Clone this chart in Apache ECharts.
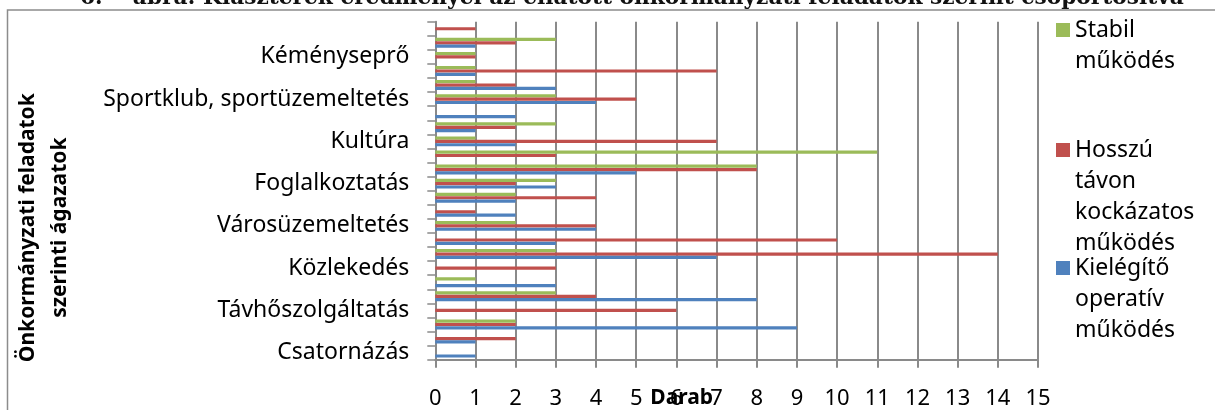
<!DOCTYPE html>
<html><head><meta charset="utf-8">
<script src="https://cdn.jsdelivr.net/npm/echarts@6/dist/echarts.min.js"></script>
<style>html,body{margin:0;padding:0;background:#fff}#c{width:1215px;height:410px}</style>
</head><body><div id="c"></div><script>
// Categories bottom-to-top (only every third label is shown in the reference; hidden ones unreadable)
const categories = ['Csatornázás','','','Távhőszolgáltatás','','','Közlekedés','','','Városüzemeltetés','','','Foglalkoztatás','','','Kultúra','','','Sportklub, sportüzemeltetés','','','Kéményseprő','',''];
const kielegito = [1,1,9,0,8,3,0,7,3,4,2,2,3,5,0,2,1,2,4,3,1,0,1,0];
const hosszu    = [0,2,2,6,4,0,3,14,10,4,1,4,2,8,3,7,2,0,5,2,7,1,2,1];
const stabil    = [0,0,2,0,3,1,0,3,0,2,0,2,3,8,11,1,3,0,3,1,1,1,3,0];
const seriesNames = ['Stabil működés','Hosszú távon kockázatos működés','Kielégítő operatív működés'];
const legendLabels = ['Stabil\nműködés','Hosszú\ntávon\nkockázatos\nműködés','Kielégítő\noperatív\nműködés'];
const xMin = 0, xMax = 15, xStep = 1;
const titleText = '6.    ábra: Klaszterek eredményei az ellátott önkormányzati feladatok szerint csoportosítva';
const yTitle = 'Önkormányzati feladatok\nszerinti ágazatok';
const xTitle = 'Darab';

const colors = ['#9BBB59','#C0504D','#4F81BD'];
const FONT = 'Noto Sans';
const LH = 31;
function iconFor(nLines){
  const h = nLines*LH, c = LH/2;
  return 'path://M0,0L0,0M0,'+(c-7)+'L14,'+(c-7)+'L14,'+(c+7)+'L0,'+(c+7)+'ZM14,'+h+'L14,'+h;
}
const legendTops = [14.5, 134.5, 252.5];
const legends = seriesNames.map((n,i)=>{
  const lines = legendLabels[i].split('\n').length;
  return {
    orient:'vertical', left:1056, top:legendTops[i], padding:0,
    itemWidth:14, itemHeight:lines*LH, itemGap:0,
    data:[{name:n, icon:iconFor(lines)}],
    formatter: ()=>legendLabels[i],
    textStyle:{fontFamily:FONT, fontSize:23, color:'#000', lineHeight:LH},
    selectedMode:false
  };
});

const chart = echarts.init(document.getElementById('c'), null, {renderer:'canvas'});
chart.setOption({
  animation:false,
  backgroundColor:'#fff',
  color: colors,
  title:{text:titleText, left:80, top:-13, padding:0,
    textStyle:{fontFamily:'DejaVu Serif', fontWeight:'bold', fontSize:21.7, color:'#111'}},
  legend: legends,
  grid:{left:435.3, right:177, top:21.7, bottom:50.3, containLabel:false, outerBoundsMode:'none'},
  xAxis:{type:'value', min:xMin, max:xMax, interval:xStep,
    axisLine:{show:true, lineStyle:{color:'#8a8a8a', width:2}},
    axisTick:{show:true, length:8, lineStyle:{color:'#8a8a8a', width:2}},
    splitLine:{show:true, lineStyle:{color:'#8a8a8a', width:2}},
    axisLabel:{fontFamily:FONT, fontSize:22, color:'#000', margin:28},
    name:xTitle, nameLocation:'middle', nameGap:28, nameMoveOverlap:false,
    nameTextStyle:{fontFamily:FONT, fontSize:21, fontWeight:'bold', color:'#000', padding:[0,110,0,0]}
  },
  yAxis:{type:'category', data:categories,
    axisLine:{show:true, lineStyle:{color:'#8a8a8a', width:2}},
    axisTick:{show:true, length:8, interval:0, lineStyle:{color:'#8a8a8a', width:1.5}},
    axisLabel:{interval:2, fontFamily:FONT, fontSize:23, color:'#000', margin:26},
    name:yTitle, nameLocation:'middle', nameRotate:90, nameGap:359, nameMoveOverlap:false,
    nameTextStyle:{fontFamily:FONT, fontSize:21, fontWeight:'bold', color:'#000', lineHeight:32, padding:[0,74,0,0]}
  },
  graphic:[{type:'rect', silent:true, z:100,
    shape:{x:7.5, y:10, width:1400, height:600},
    style:{fill:'none', stroke:'#8c8c8c', lineWidth:1.5}}],
  series:[
    {name:seriesNames[0], type:'bar', data:stabil, barWidth:3.2, barGap:'5%'},
    {name:seriesNames[1], type:'bar', data:hosszu, barWidth:3.2, barGap:'5%'},
    {name:seriesNames[2], type:'bar', data:kielegito, barWidth:3.2, barGap:'5%'}
  ]
});
</script></body></html>
